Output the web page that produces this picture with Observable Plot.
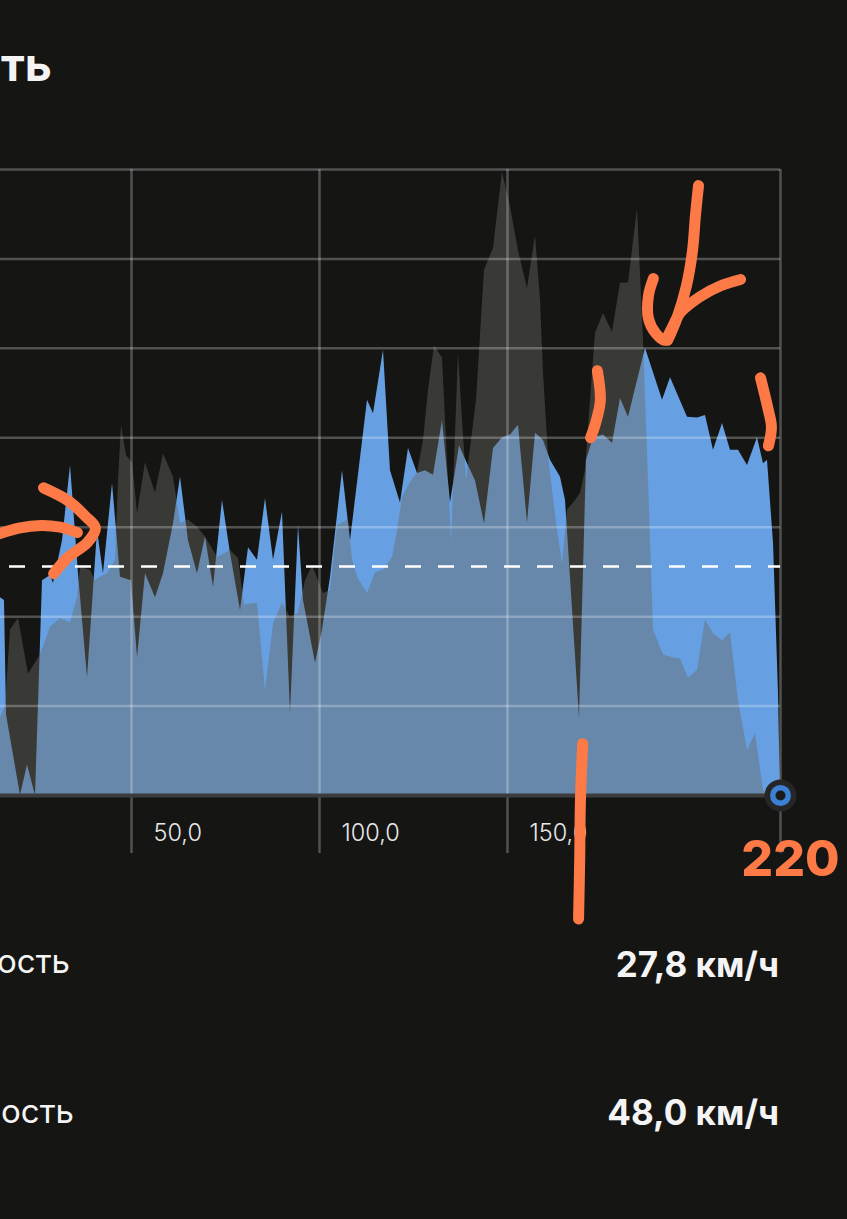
<!DOCTYPE html>
<html>
<head>
<meta charset="utf-8">
<script src="https://cdn.jsdelivr.net/npm/d3@7"></script>
<script src="https://cdn.jsdelivr.net/npm/@observablehq/plot@0.6"></script>
<style>
  html, body { margin: 0; padding: 0; background: #151514; }
  body { width: 847px; height: 1219px; position: relative; overflow: hidden; font-family: Inter, "Noto Sans", sans-serif; }
  #chart { position: absolute; left: 0; top: 0; }
  .t { position: absolute; white-space: nowrap; line-height: 1; color: #f4f4f4; }
  #title { right: 795px; top: 41px; font-size: 46px; font-weight: 700; }
  .lab { font-size: 33px; font-weight: 400; }
  .val { right: 68px; font-size: 35px; font-weight: 700; }
</style>
</head>
<body>
<div id="title" class="t">Скорость</div>
<div id="chart"></div>
<div class="t lab" style="right:777px; top:945px;">Средняя скорость</div>
<div class="t lab" style="right:773px; top:1095px;">Максимальная скорость</div>
<div class="t val" id="avgVal" style="top:947px;"></div>
<div class="t val" id="maxVal" style="top:1095px;"></div>
<script>
// ---- data (distance km, value) ----
const xMin = 15.16;      // left edge of visible chart (cropped)
const xMax = 222.61;     // end of ride
const xTicks = [50, 100, 150];
const yTicks = [10, 20, 30, 40, 50, 60, 70];
const avgLine = 25.6;
const avgSpeedText = "27,8 км/ч";
const maxSpeedText = "48,0 км/ч";
const endLabel = "220";

const speed = [
  [15.16,22.1],[16.22,21.8],[16.76,9.0],[20.48,0],[22.34,3.4],[24.47,0],[26.33,24.0],[28.46,24.6],
  [29.26,23.7],[31.65,28.5],[33.78,36.9],[35.90,24.8],[38.30,13.2],[40.96,29.6],[42.55,24.8],[44.95,34.9],
  [47.08,24.4],[50.00,24.0],[51.60,15.4],[53.72,24.8],[56.38,22.1],[58.51,24.8],[61.17,30.4],[63.03,35.6],
  [65.16,28.5],[67.55,24.8],[69.68,28.9],[71.81,23.3],[74.20,33.0],[76.33,27.1],[78.99,20.7],[81.12,27.7],
  [83.51,26.3],[85.64,33.2],[87.77,26.3],[90.16,31.7],[92.29,9.2],[94.42,30.2],[95.75,21.8],[98.94,14.8],
  [100.80,18.5],[102.93,24.4],[106.12,36.3],[108.25,28.5],[112.77,44.2],[114.36,42.7],[117.02,49.8],[118.88,36.3],
  [121.54,32.7],[123.67,38.8],[126.07,36.0],[128.19,36.3],[130.32,35.8],[132.71,41.9],[134.84,32.7],[137.24,39.1],
  [139.36,37.1],[141.49,35.2],[143.88,30.4],[146.28,38.8],[148.67,40.0],[150.80,40.3],[152.93,41.4],[155.32,30.5],
  [157.45,40.5],[159.58,39.7],[161.44,37.5],[164.10,35.6],[165.43,33.0],[169.15,8.7],[171.01,37.5],[172.88,40.0],
  [175.53,40.3],[177.93,39.4],[180.06,44.4],[182.18,42.3],[186.70,50.0],[191.23,44.2],[193.36,46.7],[197.88,42.3],
  [200.54,42.2],[202.66,42.5],[204.79,38.6],[207.19,41.6],[209.31,38.6],[211.44,38.6],[213.83,36.9],[216.49,40.0],
  [218.09,37.1],[219.15,37.5],[220.75,28.2],[222.08,11.4],[222.61,0]
];

const other = [
  [15.16,8.7],[16.49,10.1],[17.82,18.5],[19.95,19.8],[22.61,13.6],[25.80,15.7],[28.46,18.8],[31.12,19.8],
  [33.78,19.3],[35.64,22.1],[36.44,25.5],[39.10,25.2],[40.43,24.0],[41.76,24.4],[43.62,24.8],[45.75,26.3],
  [46.54,35.2],[47.34,41.4],[48.67,38.0],[50.27,37.2],[51.60,31.5],[53.72,37.2],[56.38,33.8],[58.51,38.2],
  [61.17,35.6],[63.03,30.4],[65.16,30.8],[67.55,30.0],[69.68,28.9],[72.87,26.6],[76.33,27.4],[78.46,26.5],
  [80.05,21.3],[83.51,21.5],[85.64,11.7],[87.77,19.2],[90.16,21.5],[92.29,19.9],[94.42,20.4],[96.28,24.0],
  [98.14,25.7],[99.74,24.0],[101.07,22.6],[102.93,22.9],[104.79,30.2],[107.71,30.8],[108.78,26.3],[110.11,24.4],
  [112.77,22.6],[114.89,24.9],[117.02,25.2],[119.42,26.6],[120.75,29.6],[122.08,33.3],[124.20,35.0],[126.07,36.1],
  [127.66,39.7],[128.99,45.3],[130.59,50.3],[132.71,48.9],[135.11,28.2],[136.97,49.5],[138.03,41.9],[139.10,35.2],
  [141.76,44.2],[143.88,58.7],[146.28,61.2],[148.67,69.7],[150.80,65.8],[152.93,60.9],[155.32,56.7],[157.45,62.6],
  [158.78,55.4],[159.58,47.2],[160.90,38.0],[162.77,31.3],[164.63,25.9],[165.96,31.9],[168.09,33.0],[169.42,33.8],
  [170.75,36.3],[172.08,44.2],[173.41,51.7],[175.53,53.9],[177.93,51.8],[180.06,57.3],[182.18,57.3],[184.58,65.6],
  [186.17,50.9],[187.50,35.2],[188.83,18.5],[191.49,15.7],[193.88,15.4],[196.01,15.3],[198.14,13.1],[200.54,14.0],
  [202.66,19.6],[204.79,18.1],[207.19,17.3],[209.31,18.2],[211.44,10.6],[213.83,5.0],[215.96,6.9],[218.09,0.6],
  [219.15,0],[222.61,0]
];

// hand-drawn annotation strokes (in chart coordinates)
const noteArrowLeftBar = [[14.4,29.2],[20.0,29.9],[26.0,30.2],[31.0,30.0],[35.6,29.4]];
const noteArrowLeftHead = [[26.6,34.4],[33.0,33.0],[37.8,31.2],[40.4,29.9],[38.3,28.3],[33.0,26.6],[29.3,24.8]];
const noteArrowBigShaft = [[200.8,68.2],[200.0,64.9],[199.2,60.9],[197.6,57.0],[195.0,53.3],[192.6,50.9]];
const noteArrowBigHead = [[188.8,57.8],[187.5,55.9],[187.5,53.3],[189.4,51.7],[191.8,50.9],[193.4,52.0],[196.0,54.0],[201.3,55.8],[206.7,57.0],[212.0,57.7]];
const noteBracketLeft = [[173.9,47.5],[174.7,44.2],[173.4,41.6],[172.1,40.0]];
const noteBracketRight = [[217.3,46.7],[219.2,43.4],[220.2,41.2],[219.4,39.1]];
const noteVertical = [[170.0,5.8],[169.4,-0.6],[169.2,-7.3],[168.9,-13.8]];

const orange = "#fd7a46";
const fmt = d => d.toFixed(1).replace(".", ",");
const noteStyle = {x: d => d[0], y: d => d[1], stroke: orange, strokeWidth: 11,
  strokeLinecap: "round", strokeLinejoin: "round", curve: "catmull-rom"};

const chart = Plot.plot({
  width: 847,
  height: 940,
  marginTop: 169,
  marginBottom: 145,
  marginLeft: 0,
  marginRight: 67,
  style: {background: "transparent", overflow: "visible"},
  x: {domain: [xMin, xMax], axis: null},
  y: {domain: [0, 70], axis: null},
  marks: [
    Plot.areaY(speed, {x: d => d[0], y: d => d[1], fill: "#66a0e2"}),
    Plot.areaY(other, {x: d => d[0], y: d => d[1], fill: "#696961", fillOpacity: 0.44}),
    Plot.gridY({ticks: yTicks, stroke: "#ffffff", strokeOpacity: 0.26, strokeWidth: 2.5}),
    Plot.gridX({ticks: [...xTicks, xMax], stroke: "#ffffff", strokeOpacity: 0.26, strokeWidth: 2.5}),
    Plot.axisX({ticks: [...xTicks, xMax], tickSize: 58, tickFormat: () => "", stroke: "#ffffff", strokeOpacity: 0.26, strokeWidth: 2.5}),
    Plot.ruleY([0], {stroke: "#3c3c3c", strokeWidth: 4}),
    Plot.ruleY([avgLine], {stroke: "#ffffff", strokeWidth: 2.5, strokeDasharray: "16,17", strokeDashoffset: 24}),
    Plot.text(xTicks, {x: d => d, text: fmt, frameAnchor: "bottom", dy: 45, dx: 22, textAnchor: "start",
      fill: "#e8e8e8", fontSize: 23.5, fontWeight: 300, fontFamily: "Inter"}),
    Plot.dot([[xMax, 0]], {x: d => d[0], y: d => d[1], r: 16, fill: "#262626"}),
    Plot.dot([[xMax, 0]], {x: d => d[0], y: d => d[1], r: 10.5, fill: "#3b80d5"}),
    Plot.dot([[xMax, 0]], {x: d => d[0], y: d => d[1], r: 5, fill: "#1b1b1b"}),
    Plot.line(noteArrowLeftBar, noteStyle),
    Plot.line(noteArrowLeftHead, noteStyle),
    Plot.line(noteArrowBigShaft, noteStyle),
    Plot.line(noteArrowBigHead, noteStyle),
    Plot.line(noteBracketLeft, noteStyle),
    Plot.line(noteBracketRight, noteStyle),
    Plot.line(noteVertical, noteStyle),
    Plot.text([[xMax, 0, endLabel]], {x: d => d[0], y: d => d[1], text: d => d[2], dx: 10, dy: 64,
      fill: orange, fontSize: 50, fontWeight: 800, fontFamily: "Inter"})
  ]
});
document.getElementById("chart").appendChild(chart);
document.getElementById("avgVal").textContent = avgSpeedText;
document.getElementById("maxVal").textContent = maxSpeedText;
</script>
</body>
</html>
